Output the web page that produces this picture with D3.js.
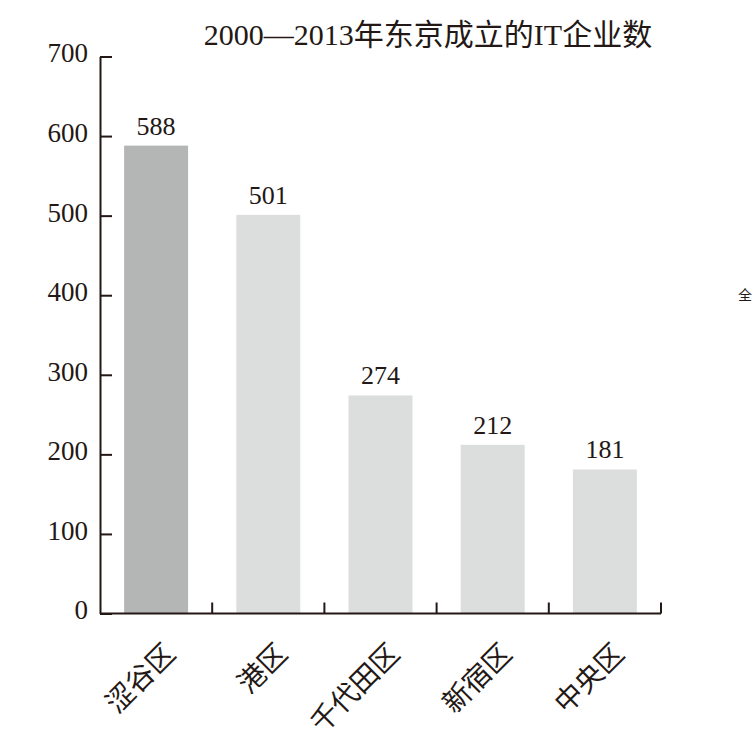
<!DOCTYPE html>
<html>
<head>
<meta charset="utf-8">
<script src="https://cdn.jsdelivr.net/npm/d3@7"></script>
<style>
  html, body { margin: 0; padding: 0; background: #fff; }
  text { font-family: "Liberation Serif", "Noto Sans CJK SC", serif; fill: #231815; }
</style>
</head>
<body>
<svg width="754" height="754"></svg>
<script>
const categories = ["涩谷区", "港区", "千代田区", "新宿区", "中央区"];
const values = [588, 501, 274, 212, 181];
const yTicks = [0, 100, 200, 300, 400, 500, 600, 700];
const title = "2000—2013年东京成立的IT企业数";

const ink = "#231815";
const svg = d3.select("svg");

const x = d3.scaleBand()
  .domain(categories)
  .range([100, 661])
  .paddingInner(0.43)
  .paddingOuter(0.215);

const y = d3.scaleLinear()
  .domain([0, 700])
  .range([613.5, 56.5]);

// title
svg.append("text")
  .attr("x", 428)
  .attr("y", 45)
  .attr("text-anchor", "middle")
  .style("font-size", "30px")
  .text(title);

// bars
svg.append("g")
  .selectAll("rect")
  .data(categories)
  .join("rect")
  .attr("x", d => x(d))
  .attr("y", (d, i) => y(values[i]))
  .attr("width", x.bandwidth())
  .attr("height", (d, i) => y(0) - y(values[i]))
  .attr("fill", (d, i) => i === 0 ? "#b4b5b5" : "#dcdddd");

// value labels
svg.append("g")
  .selectAll("text")
  .data(categories)
  .join("text")
  .attr("x", d => x(d) + x.bandwidth() / 2)
  .attr("y", (d, i) => y(values[i]) - 11)
  .attr("text-anchor", "middle")
  .style("font-size", "26px")
  .text((d, i) => values[i]);

// y axis, ticks point inwards
const yAxis = svg.append("g")
  .attr("transform", "translate(100,0)")
  .call(d3.axisLeft(y).tickValues(yTicks).tickSizeInner(-12).tickSizeOuter(0).tickPadding(12));
yAxis.selectAll("path, line").attr("stroke", ink).attr("stroke-width", 2);
yAxis.selectAll("text")
  .attr("dy", "0.2em")
  .style("font-size", "27px")
  .style("font-family", "'Liberation Serif', serif")
  .attr("fill", ink);

// x axis line with ticks at band boundaries
const xAxis = svg.append("g");
xAxis.append("line")
  .attr("x1", x.range()[0]).attr("x2", x.range()[1])
  .attr("y1", y(0)).attr("y2", y(0))
  .attr("stroke", ink).attr("stroke-width", 2);
const gap = (x.step() - x.bandwidth()) / 2;
xAxis.selectAll("line.tick")
  .data(categories)
  .join("line")
  .attr("class", "tick")
  .attr("x1", d => x(d) + x.bandwidth() + gap)
  .attr("x2", d => x(d) + x.bandwidth() + gap)
  .attr("y1", y(0))
  .attr("y2", y(0) - 11)
  .attr("stroke", ink).attr("stroke-width", 2);

// rotated category labels
xAxis.selectAll("text")
  .data(categories)
  .join("text")
  .attr("transform", d => `translate(${x(d) + x.bandwidth() / 2 + 6},${y(0) + 27}) rotate(-45)`)
  .attr("text-anchor", "end")
  .attr("dy", "0.75em")
  .style("font-size", "28px")
  .text(d => d);

// small character at the right edge
svg.append("text")
  .attr("x", 738)
  .attr("y", 300)
  .style("font-size", "14px")
  .attr("fill", "#666")
  .text("全");
</script>
</body>
</html>
